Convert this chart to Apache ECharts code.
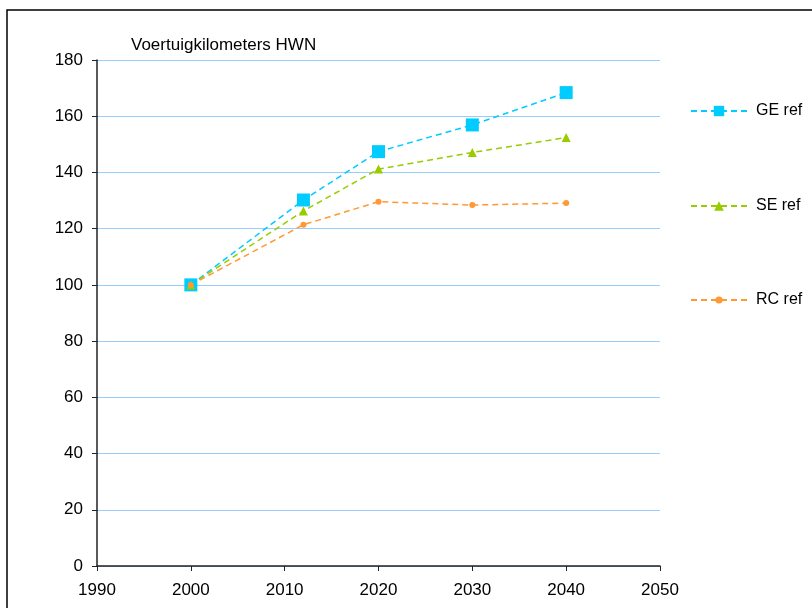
<!DOCTYPE html>
<html>
<head>
<meta charset="utf-8">
<script src="https://cdn.jsdelivr.net/npm/echarts@6/dist/echarts.min.js"></script>
<style>
  html, body { margin: 0; padding: 0; background: #fff; }
  #chart { width: 812px; height: 608px; }
</style>
</head>
<body>
<div id="chart"></div>
<script>
// data
const years = [2000, 2012, 2020, 2030, 2040]
const geRef = [100, 130.2, 147.4, 156.9, 168.4]
const seRef = [100, 126.3, 141.2, 147.1, 152.4]
const rcRef = [100, 121.4, 129.6, 128.4, 129.1]
const seriesNames = ['GE ref', 'SE ref', 'RC ref']

const FONT = '"Liberation Sans", Arial, sans-serif'

const chart = echarts.init(document.getElementById('chart'))

function pairs(vals) {
    return years.map((y, i) => [y, vals[i]])
}

function lineSeries(name, vals, color, symbol, size) {
    return {
        name: name,
        type: 'line',
        data: pairs(vals),
        symbol: symbol,
        symbolSize: size,
        itemStyle: { color: color },
        lineStyle: { color: color, width: 1.5, type: [6, 4] },
        emphasis: { disabled: true },
        animation: false
    }
}

function legendAt(name, top, h) {
    return {
        data: [name],
        left: 685,
        top: top,
        itemWidth: 56,
        itemHeight: h,
        textStyle: { fontSize: 16, color: '#000', fontFamily: FONT, padding: [0, 0, 0, 4] },
        selectedMode: false
    }
}

const option = {
    backgroundColor: '#fff',
    animation: false,
    title: {
        text: 'Voertuigkilometers HWN',
        left: 126,
        top: 32,
        textStyle: { fontSize: 17, fontWeight: 'normal', color: '#000', fontFamily: FONT }
    },
    graphic: [{
        type: 'rect',
        shape: { x: 7, y: 10, width: 900, height: 700 },
        style: { fill: 'none', stroke: '#000', lineWidth: 1.5 },
        silent: true
    }],
    legend: [
        legendAt(seriesNames[0], 98, 13),
        legendAt(seriesNames[1], 193, 12),
        legendAt(seriesNames[2], 287, 9)
    ],
    grid: {
        left: 97,
        right: 152,
        top: 60,
        bottom: 42,
        containLabel: false
    },
    xAxis: {
        type: 'value',
        min: 1990,
        max: 2050,
        interval: 10,
        axisLine: { show: true, onZero: false, lineStyle: { color: '#222', width: 1.5 } },
        axisTick: { show: true, inside: false, length: 5, lineStyle: { color: '#222' } },
        axisLabel: { fontSize: 17, color: '#000', fontFamily: FONT, margin: 16, formatter: v => String(v) },
        splitLine: { show: false }
    },
    yAxis: {
        type: 'value',
        min: 0,
        max: 180,
        interval: 20,
        axisLine: { show: true, lineStyle: { color: '#222', width: 1.5 } },
        axisTick: { show: true, inside: false, length: 5, lineStyle: { color: '#222' } },
        axisLabel: { fontSize: 17, color: '#000', fontFamily: FONT, margin: 14 },
        splitLine: { show: true, lineStyle: { color: '#99CCFF', width: 1.2 } }
    },
    series: [
        lineSeries(seriesNames[0], geRef, '#00CCFF', 'rect', 13),
        lineSeries(seriesNames[1], seRef, '#99CC00', 'triangle', 9),
        lineSeries(seriesNames[2], rcRef, '#FF9933', 'circle', 6)
    ]
}

chart.setOption(option)
</script>
</body>
</html>
